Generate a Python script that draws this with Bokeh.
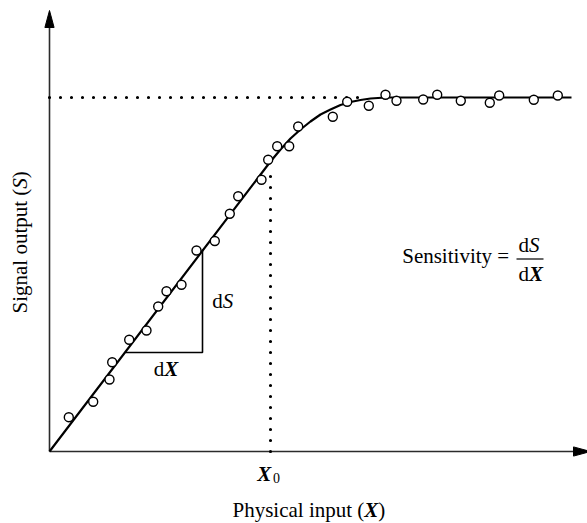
from bokeh.plotting import figure
from bokeh.models import Range1d
from bokeh.core.properties import value
from bokeh.embed import file_html
from bokeh.resources import INLINE

# Measured sensor response (arbitrary units, origin at the axes corner)
input_x = [19.3, 43.7, 60.0, 62.7, 79.7, 97.0, 108.7, 117.0, 132.0, 147.0,
           165.3, 180.3, 188.7, 212.0, 218.7, 227.7, 239.7, 248.7, 283.3, 297.7,
           319.3, 336.0, 347.0, 373.7, 387.7, 411.3, 440.3, 449.7, 484.3, 508.3]
output_s = [34.3, 49.7, 72.0, 89.3, 111.7, 121.0, 145.0, 160.3, 166.7, 201.0,
            210.5, 237.7, 255.3, 271.7, 291.7, 305.3, 305.3, 325.0, 334.7, 349.7,
            345.7, 356.7, 350.7, 352.0, 356.7, 350.7, 348.7, 356.0, 351.7, 356.0]

# Fitted calibration curve: linear region, then saturation
fit_x = [0, 221, 231, 241, 251, 261, 271, 281, 291, 301, 311, 321, 336, 522]
fit_s = [0, 290, 302, 313, 322, 330, 337, 342, 346.5, 349.5, 351.5, 353, 354, 354]

x0 = 221          # end of the linear range
s_sat = 354       # saturation level
dx_run = [76, 153]    # horizontal leg of the slope triangle
ds_rise = [99, 202]   # vertical leg of the slope triangle

SERIF = "Liberation Serif"
AXIS_COLOR = "#2b2b2b"
FS = 21

p = figure(width=587, height=523, output_backend="svg", toolbar_location=None,
           x_range=Range1d(-49, 538), y_range=Range1d(-72, 451),
           min_border=0, x_axis_location=None, y_axis_location=None,
           outline_line_color=None, background_fill_color="white",
           border_fill_color="white")
p.grid.visible = False

# Axes with arrow heads
y_tip = 441
x_tip = 541
p.line([0, 0], [0, y_tip - 12], line_color=AXIS_COLOR, line_width=1.6)
p.line([0, x_tip - 12], [0, 0], line_color=AXIS_COLOR, line_width=1.6)
p.patch([0, -4.6, 4.6], [y_tip, y_tip - 17, y_tip - 17], color="black")
p.patch([x_tip, x_tip - 17, x_tip - 17], [0, 4.6, -4.6], color="black")

# Dotted guides to the saturation level and to X0
p.line([0, 318], [s_sat, s_sat], line_color="black", line_width=3.2,
       line_dash="0 11", line_cap="round")
p.line([x0, x0], [0, 279], line_color="black", line_width=3.2,
       line_dash="0 11", line_cap="round")

# Slope triangle
p.line([dx_run[0], dx_run[1], dx_run[1]], [ds_rise[0], ds_rise[0], ds_rise[1]],
       line_color="black", line_width=1.6)

# Fitted curve and measurements
p.line(fit_x, fit_s, line_color="black", line_width=2.2)
p.scatter(input_x, output_s, marker="circle", size=9, fill_color="white",
          line_color="black", line_width=1.4)

# Approximate advance widths (em) for the serif face
W = {' ': .25, '(': .333, ')': .333, '=': .564, 'a': .444, 'c': .444, 'd': .5,
     'e': .444, 'g': .5, 'h': .5, 'i': .278, 'l': .278, 'n': .5, 'o': .5,
     'p': .5, 's': .389, 't': .278, 'u': .5, 'v': .5, 'y': .5, 'P': .556,
     'S': .556, 'X': .722, '0': .5}
ITALIC_W = {'S': .5, 'X': .667}


def run(x, y, pieces, size=FS, vertical=False):
    """Draw consecutive text pieces of mixed style along one baseline."""
    lift = 0.3 * size  # the svg text sits a little low on its baseline
    pos = 0.0
    for txt, style in pieces:
        kw = dict(text=[txt], text_font=value(SERIF), text_font_size=f"{size}px",
                  text_font_style=style, text_baseline="alphabetic",
                  text_align="left", text_color="black")
        if vertical:
            p.text(x=[x - lift], y=[y + pos], angle=1.5708, **kw)
        else:
            p.text(x=[x + pos], y=[y + lift], **kw)
        table = ITALIC_W if style != "normal" else W
        pos += sum(table.get(c, W.get(c, .5)) for c in txt) * size


run(162.7, 144.3, [("d", "normal"), ("S", "italic")])
run(104.3, 76, [("d", "normal"), ("X", "bold italic")])
run(352.7, 189.3, [("Sensitivity =", "normal")])
run(469, 200, [("d", "normal"), ("S", "italic")])
run(469, 171, [("d", "normal"), ("X", "bold italic")])
p.line([467, 494], [192.5, 192.5], line_color="black", line_width=1.2)

run(207.7, -29, [("X", "bold italic")])
run(223.5, -31, [("0", "normal")], size=14)

run(183, -64.5, [("Physical input (", "normal"), ("X", "bold italic"), (")", "normal")])
run(-23, 138, [("Signal output (", "normal"), ("S", "italic"), (")", "normal")],
    vertical=True)

open("out.html", "w").write(file_html(p, INLINE))
